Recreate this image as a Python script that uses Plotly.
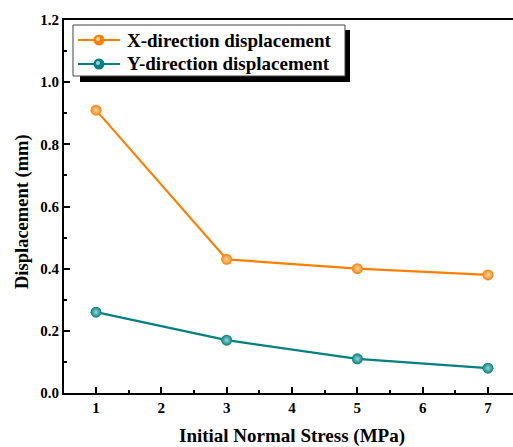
import plotly.graph_objects as go

stress = [1, 3, 5, 7]
x_disp = [0.91, 0.43, 0.40, 0.38]
y_disp = [0.26, 0.17, 0.11, 0.08]
series_names = ["X-direction displacement", "Y-direction displacement"]
colors = ["#FF8000", "#008080"]
highlights = ["#FFD9B0", "#9FD4D4"]
x_ticks = [1, 2, 3, 4, 5, 6, 7]
y_ticks = [0.0, 0.2, 0.4, 0.6, 0.8, 1.0, 1.2]

W, H = 513, 447
ml, mr, mt, mb = 64, 0, 20, 54
pw, ph = W - ml - mr, H - mt - mb

def px_x(p):
    return (p - ml) / pw

def px_y(p):
    return 1 - (p - mt) / ph

font = "'Times New Roman', 'Liberation Serif', serif"

fig = go.Figure()
for name, vals, c, hl in zip(series_names, [x_disp, y_disp], colors, highlights):
    fig.add_trace(go.Scatter(
        x=stress, y=vals, name=name, mode="lines+markers",
        line=dict(color=c, width=2.2),
        marker=dict(color=c, size=11, line=dict(width=0),
                    gradient=dict(type="radial", color=hl)),
        showlegend=False,
    ))

fig.update_layout(
    width=W, height=H,
    margin=dict(l=ml, r=mr, t=mt, b=mb),
    paper_bgcolor="white", plot_bgcolor="white",
    font=dict(family=font, color="black"),
    showlegend=False,
    xaxis=dict(
        range=[0.51, 0.51 + pw / 65.33],
        tickmode="array", tickvals=x_ticks,
        ticktext=["<b>%d</b>" % v for v in x_ticks],
        ticks="inside", ticklen=6, tickwidth=2, tickcolor="black",
        minor=dict(ticks="inside", ticklen=3, tickwidth=2, tickcolor="black", dtick=0.5, showgrid=False),
        showline=True, linewidth=2, linecolor="black", mirror=True,
        showgrid=False, zeroline=False,
        tickfont=dict(family=font, size=15),
    ),
    yaxis=dict(
        range=[0, 1.2],
        tickmode="array", tickvals=y_ticks,
        ticktext=["<b>%.1f</b>" % v for v in y_ticks],
        ticks="inside", ticklen=6, tickwidth=2, tickcolor="black",
        minor=dict(ticks="inside", ticklen=3, tickwidth=2, tickcolor="black", dtick=0.1, showgrid=False),
        showline=True, linewidth=2, linecolor="black",
        showgrid=False, zeroline=False,
        tickfont=dict(family=font, size=15),
    ),
)

# axis titles
fig.add_annotation(text="<b>Initial Normal Stress (MPa)</b>", xref="paper", yref="paper",
                   x=px_x(292), y=px_y(436), xanchor="center", yanchor="middle",
                   showarrow=False, font=dict(family=font, size=19))
fig.add_annotation(text="<b>Displacement (mm)</b>", xref="paper", yref="paper",
                   x=px_x(22), y=px_y(212), xanchor="center", yanchor="middle",
                   textangle=-90, showarrow=False, font=dict(family=font, size=18.5))

# legend: shadow + box
fig.add_shape(type="rect", xref="paper", yref="paper",
              x0=px_x(80), x1=px_x(350), y0=px_y(82), y1=px_y(30),
              fillcolor="black", line=dict(width=0), layer="above")
fig.add_shape(type="rect", xref="paper", yref="paper",
              x0=px_x(73), x1=px_x(345), y0=px_y(76), y1=px_y(25),
              fillcolor="white", line=dict(color="#444444", width=1), layer="above")

row_y = [40, 64]
r = 5.5
rh = 2
for name, c, hl, yy in zip(series_names, colors, highlights, row_y):
    fig.add_shape(type="line", xref="paper", yref="paper",
                  x0=px_x(78), x1=px_x(120), y0=px_y(yy), y1=px_y(yy),
                  line=dict(color=c, width=2.2), layer="above")
    fig.add_shape(type="circle", xref="paper", yref="paper",
                  x0=px_x(99 - r), x1=px_x(99 + r), y0=px_y(yy + r), y1=px_y(yy - r),
                  fillcolor=c, line=dict(width=0), layer="above")
    fig.add_shape(type="circle", xref="paper", yref="paper",
                  x0=px_x(98 - rh), x1=px_x(98 + rh), y0=px_y(yy - 1 + rh), y1=px_y(yy - 1 - rh),
                  fillcolor=hl, line=dict(width=0), layer="above")
    fig.add_annotation(text="<b>%s</b>" % name, xref="paper", yref="paper",
                       x=px_x(125), y=px_y(yy), xanchor="left", yanchor="middle",
                       showarrow=False, font=dict(family=font, size=19))

fig.add_annotation(text="<b>(a)</b>", xref="paper", yref="paper",
                   x=px_x(273), y=px_y(3), xanchor="center", yanchor="bottom",
                   showarrow=False, font=dict(family=font, size=18))

fig.write_html("out.html")
